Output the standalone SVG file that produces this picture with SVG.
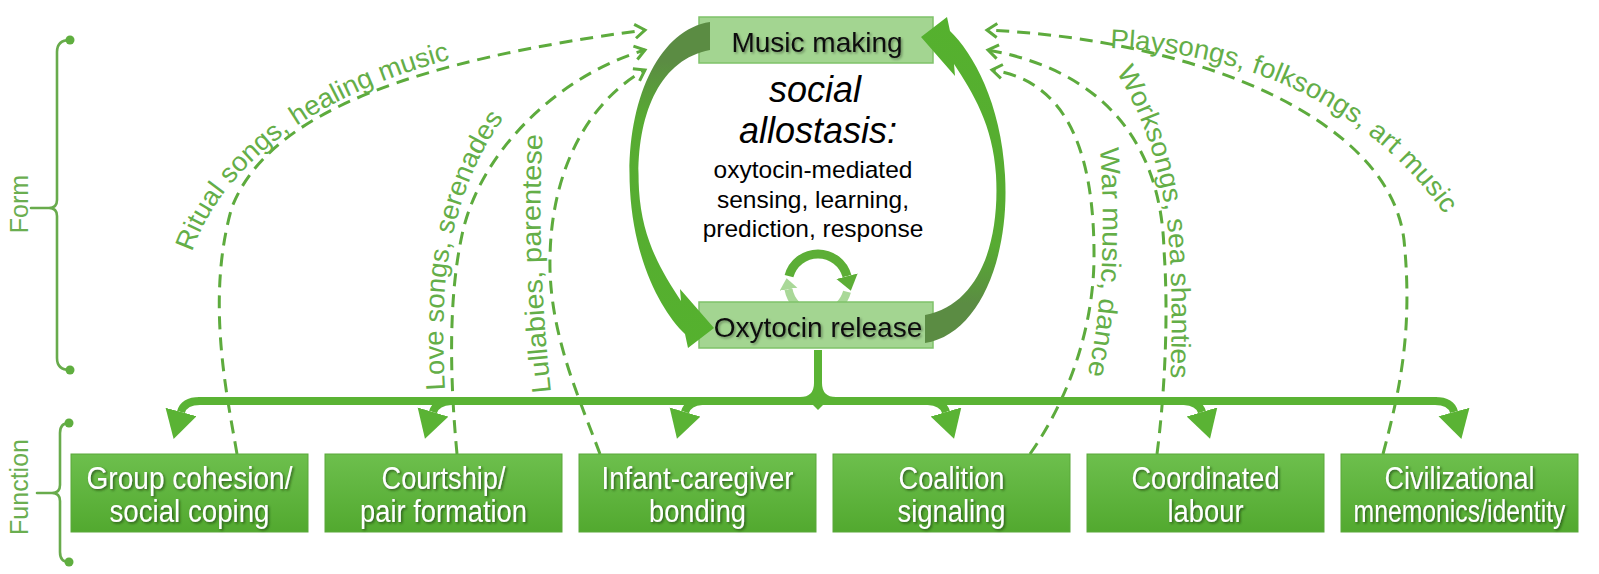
<svg xmlns="http://www.w3.org/2000/svg" width="1599" height="574" viewBox="0 0 1599 574">
<defs>
<style>
.lbl{font-family:"Liberation Sans",Arial,sans-serif;font-size:27px;fill:#64ae48}
.dash{fill:none;stroke:#5dab3d;stroke-width:3;stroke-dasharray:13 8}
.side{font-family:"Liberation Sans",Arial,sans-serif;font-size:25px;fill:#6aae50}
.brk{fill:none;stroke:#68ab4c;stroke-width:2.6;stroke-linecap:round}
.dot{fill:#5fae3f}
.fbox{fill:url(#gBox);stroke:#5aa83a;stroke-width:1}
.ftxt{font-family:"Liberation Sans",Arial,sans-serif;font-size:31px;fill:#fff;text-anchor:middle;filter:url(#shW)}
.cbox{fill:#a3d591;stroke:#7fc26a;stroke-width:1.5}
.ctxt{font-family:"Liberation Sans",Arial,sans-serif;font-size:28px;fill:#111;text-anchor:middle;filter:url(#shB)}
.mid{font-family:"Liberation Sans",Arial,sans-serif;fill:#000;text-anchor:middle}
.dist{fill:none;stroke:#5ab334;stroke-width:8}
</style>
<linearGradient id="gBox" x1="0" y1="0" x2="0" y2="1">
<stop offset="0" stop-color="#6dbf4d"/><stop offset="1" stop-color="#52a92f"/>
</linearGradient>
<linearGradient id="gArc" x1="0" y1="0" x2="0" y2="1">
<stop offset="0" stop-color="#5b8c43"/><stop offset="0.12" stop-color="#5b8c43"/><stop offset="0.3" stop-color="#57ab32"/><stop offset="1" stop-color="#55b12e"/>
</linearGradient>
<filter id="shW" x="-10%" y="-30%" width="120%" height="160%">
<feDropShadow dx="1.5" dy="1.5" stdDeviation="1" flood-color="#1d3d10" flood-opacity="0.7"/>
</filter>
<filter id="shB" x="-10%" y="-30%" width="120%" height="160%">
<feDropShadow dx="1.5" dy="1.5" stdDeviation="1.2" flood-color="#000" flood-opacity="0.35"/>
</filter>
<marker id="chev" markerWidth="18" markerHeight="20" refX="13" refY="9" orient="auto" markerUnits="userSpaceOnUse">
<path d="M3,2 L13,9 L3,16" fill="none" stroke="#5dab3d" stroke-width="3"/>
</marker>
<marker id="drop" markerWidth="34" markerHeight="34" refX="0" refY="16" orient="auto" markerUnits="userSpaceOnUse">
<path d="M0,0 L28,16 L0,32 Z" fill="#5ab334"/>
</marker>
<marker id="cycD" markerWidth="20" markerHeight="24" refX="0" refY="11" orient="auto" markerUnits="userSpaceOnUse">
<path d="M0,0 L15,11 L0,22 Z" fill="#5cae36"/>
</marker>
<marker id="cycL" markerWidth="20" markerHeight="24" refX="0" refY="9" orient="auto" markerUnits="userSpaceOnUse">
<path d="M0,0 L11,9 L0,18 Z" fill="#a9d898"/>
</marker>
<path id="tA" d="M192,252 C218,178 295,100 455,58"/>
<path id="tB" d="M445,390 C441,320 444,262 457,218 C472,165 492,130 515,105"/>
<path id="tC" d="M551,392 C543,320 537,225 543,125"/>
<path id="tD" d="M1100,148 C1106,230 1103,320 1084,388"/>
<path id="tE" d="M1116,72 C1140,110 1160,160 1168,230 C1173,290 1172,340 1170,392"/>
<path id="tF" d="M1110,48 C1225,52 1360,90 1450,222"/>
<path id="bigArc" d="M710,22 C657,30 625,105 630,190 C634,262 662,312 685,334 L688,348 L714,328 L680,289 L681,301 C662,272 642,240 639,190 C635,120 657,60 710,50 Z"/>
</defs>

<g id="brackets">
<text class="side" transform="translate(28,204) rotate(-90)" text-anchor="middle">Form</text>
<path class="brk" d="M70,40 Q57,40 57,52 L57,200 Q57,208 49,208 L31,208 M49,208 Q57,208 57,216 L57,358 Q57,370 70,370"/>
<circle class="dot" cx="70" cy="40" r="4.5"/>
<circle class="dot" cx="70" cy="370" r="4.5"/>
<text class="side" transform="translate(28,487) rotate(-90)" text-anchor="middle" font-size="26.5">Function</text>
<path class="brk" d="M69,423 Q60,423 60,433 L60,485 Q60,493 52,493 L37,493 M52,493 Q60,493 60,501 L60,552 Q60,562 69,562"/>
<circle class="dot" cx="69" cy="423" r="4.5"/>
<circle class="dot" cx="69" cy="562" r="4.5"/>
</g>

<g id="connectors">
<path class="dash" marker-end="url(#chev)" d="M237,454 C228,400 205,300 232,207 C270,110 420,60 645,30"/>
<path class="dash" marker-end="url(#chev)" d="M457,454 C450,380 448,300 462,235 C480,150 560,75 645,50"/>
<path class="dash" marker-end="url(#chev)" d="M600,454 C580,400 552,340 550,270 C548,170 590,100 645,70"/>
<path class="dash" marker-end="url(#chev)" d="M1030,454 C1068,400 1093,330 1094,260 C1095,140 1060,80 992,70"/>
<path class="dash" marker-end="url(#chev)" d="M1157,454 C1164,400 1169,320 1164,250 C1161,140 1100,70 988,50"/>
<path class="dash" marker-end="url(#chev)" d="M1383,454 C1400,390 1413,330 1404,240 C1390,120 1200,40 987,30"/>
<text class="lbl"><textPath href="#tA" textLength="335" lengthAdjust="spacingAndGlyphs">Ritual songs, healing music</textPath></text>
<text class="lbl"><textPath href="#tB" textLength="284" lengthAdjust="spacingAndGlyphs">Love songs, serenades</textPath></text>
<text class="lbl"><textPath href="#tC" textLength="258" lengthAdjust="spacingAndGlyphs">Lullabies, parentese</textPath></text>
<text class="lbl"><textPath href="#tD" textLength="228" lengthAdjust="spacingAndGlyphs">War music, dance</textPath></text>
<text class="lbl"><textPath href="#tE" textLength="316" lengthAdjust="spacingAndGlyphs">Worksongs, sea shanties</textPath></text>
<text class="lbl"><textPath href="#tF" textLength="388" lengthAdjust="spacingAndGlyphs">Playsongs, folksongs, art music</textPath></text>

<path class="dist" d="M198,401 L1437,401"/>
<path class="dist" d="M818,350 L818,383 Q818,401 800,401 M818,383 Q818,401 836,401"/>
<path d="M812,404 L824,404 L818,410 Z" fill="#5ab334"/>
<path class="dist" marker-end="url(#drop)" d="M200,401 Q184,401 181,412"/>
<path class="dist" marker-end="url(#drop)" d="M451,401 Q436,402 433,412"/>
<path class="dist" marker-end="url(#drop)" d="M702,401 Q688,402 685,412"/>
<path class="dist" marker-end="url(#drop)" d="M928,401 Q943,402 946,412"/>
<path class="dist" marker-end="url(#drop)" d="M1184,401 Q1199,402 1202,412"/>
<path class="dist" marker-end="url(#drop)" d="M1435,401 Q1451,401 1454,412"/>

<path d="M846.98,291.8 A30,30 0 0 1 839.2,305.2" fill="none" stroke="#a9d898" stroke-width="8"/>
<path d="M796.8,305.2 A30,30 0 0 1 788.5,289.2" fill="none" stroke="#a9d898" stroke-width="8" marker-end="url(#cycL)"/>
<path d="M789,276.2 A30,30 0 0 1 847,276.2" fill="none" stroke="#5cae36" stroke-width="9" marker-end="url(#cycD)"/>
</g>

<g id="music-making">
<rect class="cbox" x="699" y="17" width="234" height="46"/>
</g>
<g id="oxytocin-release">
<rect class="cbox" x="699" y="302" width="234" height="46"/>
</g>

<g id="big-arcs">
<use href="#bigArc" fill="url(#gArc)"/>
<use href="#bigArc" fill="url(#gArc)" transform="rotate(180 817.5 182.5)"/>
</g>

<text class="ctxt" x="817" y="52">Music making</text>
<text class="ctxt" x="818" y="337">Oxytocin release</text>

<g id="allostasis">
<text class="mid" x="815" y="102" font-size="36" font-style="italic">social</text>
<text class="mid" x="818" y="143" font-size="36" font-style="italic">allostasis:</text>
<text class="mid" x="813" y="178" font-size="24.5">oxytocin-mediated</text>
<text class="mid" x="813" y="208" font-size="24.5">sensing, learning,</text>
<text class="mid" x="813" y="237" font-size="24.5">prediction, response</text>
</g>

<g id="group-cohesion">
<rect class="fbox" x="71" y="454" width="237" height="78"/>
<text class="ftxt" x="189.5" y="489" textLength="206" lengthAdjust="spacingAndGlyphs">Group cohesion/</text>
<text class="ftxt" x="189.5" y="522" textLength="160" lengthAdjust="spacingAndGlyphs">social coping</text>
</g>
<g id="courtship">
<rect class="fbox" x="325" y="454" width="237" height="78"/>
<text class="ftxt" x="443.5" y="489" textLength="124" lengthAdjust="spacingAndGlyphs">Courtship/</text>
<text class="ftxt" x="443.5" y="522" textLength="167" lengthAdjust="spacingAndGlyphs">pair formation</text>
</g>
<g id="infant-caregiver">
<rect class="fbox" x="579" y="454" width="237" height="78"/>
<text class="ftxt" x="697.5" y="489" textLength="192" lengthAdjust="spacingAndGlyphs">Infant-caregiver</text>
<text class="ftxt" x="697.5" y="522" textLength="97" lengthAdjust="spacingAndGlyphs">bonding</text>
</g>
<g id="coalition">
<rect class="fbox" x="833" y="454" width="237" height="78"/>
<text class="ftxt" x="951.5" y="489" textLength="106" lengthAdjust="spacingAndGlyphs">Coalition</text>
<text class="ftxt" x="951.5" y="522" textLength="108" lengthAdjust="spacingAndGlyphs">signaling</text>
</g>
<g id="coordinated-labour">
<rect class="fbox" x="1087" y="454" width="237" height="78"/>
<text class="ftxt" x="1205.5" y="489" textLength="148" lengthAdjust="spacingAndGlyphs">Coordinated</text>
<text class="ftxt" x="1205.5" y="522" textLength="76" lengthAdjust="spacingAndGlyphs">labour</text>
</g>
<g id="civilizational">
<rect class="fbox" x="1341" y="454" width="237" height="78"/>
<text class="ftxt" x="1459.5" y="489" textLength="150" lengthAdjust="spacingAndGlyphs">Civilizational</text>
<text class="ftxt" x="1459.5" y="522" font-size="26" textLength="212" lengthAdjust="spacingAndGlyphs">mnemonics/identity</text>
</g>
</svg>
